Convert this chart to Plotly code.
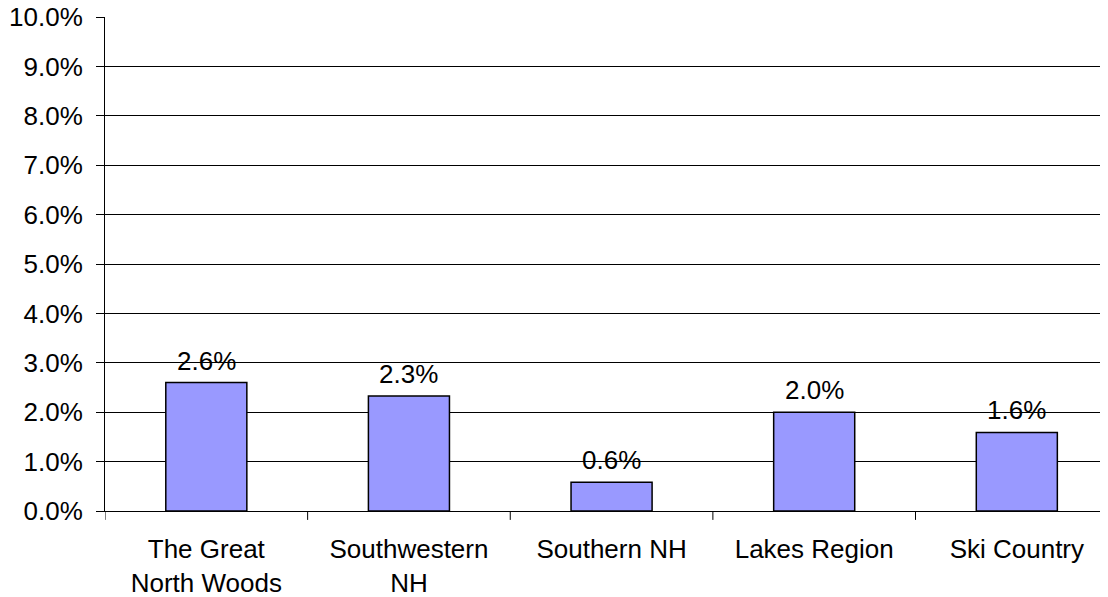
import plotly.graph_objects as go

categories = ["The Great<br>North Woods", "Southwestern<br>NH", "Southern NH", "Lakes Region", "Ski Country"]
values = [2.60, 2.33, 0.58, 2.00, 1.59]
y_ticks = [0, 1, 2, 3, 4, 5, 6, 7, 8, 9, 10]

FONT = "Liberation Sans, Arial, sans-serif"
FS = 26

fig = go.Figure()
fig.add_trace(go.Bar(
    x=list(range(len(categories))),
    y=values,
    width=0.4,
    marker=dict(color="#9999FF", line=dict(color="#000000", width=1.5)),
    hoverinfo="skip",
))

for i, v in enumerate(values):
    fig.add_annotation(
        x=i, y=v, text=f"{v:.1f}%", showarrow=False,
        yanchor="bottom", yshift=5,
        font=dict(family=FONT, size=FS, color="#000000"),
    )

fig.update_layout(
    width=1100, height=589,
    margin=dict(l=97, r=0, t=9, b=86, pad=0),
    paper_bgcolor="white", plot_bgcolor="white",
    showlegend=False,
    font=dict(family=FONT, size=FS, color="#000000"),
)

fig.update_xaxes(
    range=[-0.5, 4.45],
    tickmode="array",
    tickvals=list(range(len(categories))),
    ticktext=categories,
    showgrid=False,
    showline=True, linecolor="#000000", linewidth=1,
    ticks="", zeroline=False,
    tickfont=dict(family=FONT, size=FS, color="#000000"),
    ticklabelstandoff=15,
    automargin=False,
)

# boundary tick marks on x axis
for b in [-0.5, 0.5, 1.5, 2.5, 3.5]:
    fig.add_shape(type="line", xref="x", yref="paper",
                  x0=b, x1=b, y0=0, y1=-0.018,
                  line=dict(color="#000000", width=1))

fig.update_yaxes(
    range=[0, 10],
    tickmode="array",
    tickvals=y_ticks,
    ticktext=[f"{t:.1f}%" for t in y_ticks],
    showgrid=True, gridcolor="#000000", gridwidth=1,
    showline=True, linecolor="#000000", linewidth=1,
    ticks="outside", ticklen=8, tickcolor="#000000",
    zeroline=False,
    tickfont=dict(family=FONT, size=FS, color="#000000"),
    ticklabelstandoff=8,
    ticklabeloverflow="allow",
    automargin=False,
)

fig.write_html("out.html")
